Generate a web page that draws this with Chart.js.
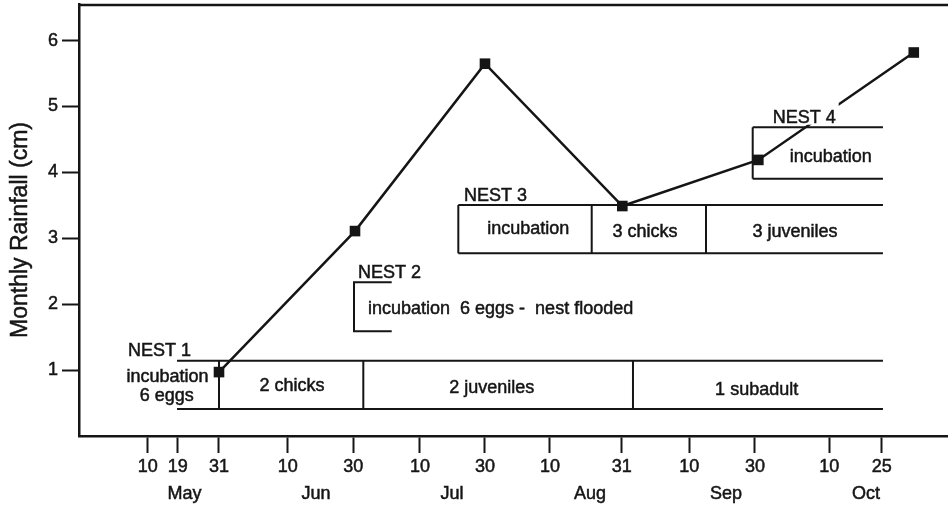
<!DOCTYPE html>
<html><head><meta charset="utf-8">
<script src="https://cdn.jsdelivr.net/npm/chart.js@4"></script>
<style>html,body{margin:0;padding:0;background:#fff;overflow:hidden}#wrap{width:948px;height:507px;position:relative}</style>
</head><body><div id="wrap"><canvas id="c"></canvas></div>
<script>
// ---- data (x axis in "tick slot" units of the hand-drawn date axis) ----
const xTickPositions = [-0.064, 0.384, 1, 2.025, 3.004, 4.0, 4.97, 5.94, 7.01, 8.019, 9.0, 10.109, 10.891];
const xTickLabels = ['10','19','31','10','30','10','30','10','31','10','30','10','25'];
const monthNames = ['May','Jun','Jul','Aug','Sep','Oct'];
const monthPositions = [0.485, 2.448, 4.478, 6.537, 8.567, 10.657];
const yTickValues = [1, 2, 3, 4, 5, 6];
const rainfallX = [1, 3.03, 4.97, 7.02, 9.05, 11.37];
const rainfallCm = [0.97, 3.11, 5.65, 3.49, 4.19, 5.82];

// nest phase boundaries (axis units)
const nest1Span = [0.373, 10.91];
const nest1Breaks = [1.0, 3.154, 7.179];
const nest1Phases = ['2 chicks', '2 juveniles', '1 subadult'];
const nest2Span = [3.015, 3.578];
const nest3Span = [4.572, 10.91];
const nest3Breaks = [6.563, 8.269];
const nest3Phases = ['incubation', '3 chicks', '3 juveniles'];
const nest4Span = [8.966, 10.91];
const nest4Phases = ['incubation'];

// ---- layout of the annotation boxes (cm units on y) ----
const FONT = '"Liberation Sans", Arial, Helvetica, sans-serif';
const INK = '#151515';
const boxLayout = [
  {span: nest1Span, breaks: nest1Breaks, y0: 0.41, y1: 1.141, leftEdge: false},
  {span: nest3Span, breaks: nest3Breaks, y0: 2.772, y1: 3.506, leftEdge: true},
  {span: nest4Span, breaks: [], y0: 3.903, y1: 4.684, leftEdge: true}
];
const textLayout = [
  {t: 'NEST 1', x: -0.358, y: 1.293, a: 'left'},
  {t: 'incubation', x: 0.231, y: 0.89, a: 'center'},
  {t: '6 eggs', x: 0.219, y: 0.611, a: 'center'},
  {t: nest1Phases[0], x: 2.09, y: 0.751, a: 'center'},
  {t: nest1Phases[1], x: 5.07, y: 0.728, a: 'center'},
  {t: nest1Phases[2], x: 9.025, y: 0.702, a: 'center'},
  {t: 'NEST 2', x: 3.075, y: 2.469, a: 'left'},
  {t: 'incubation  6 eggs -  nest flooded', x: 3.224, y: 1.92, a: 'left'},
  {t: 'NEST 3', x: 4.657, y: 3.635, a: 'left'},
  {t: nest3Phases[0], x: 5.617, y: 3.135, a: 'center'},
  {t: nest3Phases[1], x: 7.358, y: 3.09, a: 'center'},
  {t: nest3Phases[2], x: 9.597, y: 3.09, a: 'center'},
  {t: nest4Phases[0], x: 10.13, y: 4.24, a: 'center'}
];
const nest4Label = {t: 'NEST 4', x: 9.264, y: 4.83};

function inkText(ctx, t, x, y) {
  ctx.fillText(t, x, y);
  ctx.strokeText(t, x, y);
}

const annotations = {
  id: 'annotations',
  beforeDatasetsDraw(chart) {
    const {ctx, scales: {x, y}, chartArea} = chart;
    ctx.save();
    ctx.strokeStyle = INK;
    ctx.lineCap = 'butt';
    // top frame line
    ctx.beginPath();
    ctx.lineWidth = 2.5;
    ctx.moveTo(chartArea.left - 1, chartArea.top + 1);
    ctx.lineTo(chartArea.right, chartArea.top + 1);
    ctx.stroke();
    ctx.lineWidth = 2;
    boxLayout.forEach(b => {
      const xl = x.getPixelForValue(b.span[0]), xr = x.getPixelForValue(b.span[1]);
      const yt = y.getPixelForValue(b.y1), yb = y.getPixelForValue(b.y0);
      ctx.beginPath();
      ctx.moveTo(xl, yt); ctx.lineTo(xr, yt);
      ctx.moveTo(xl, yb); ctx.lineTo(xr, yb);
      if (b.leftEdge) { ctx.moveTo(xl, yt); ctx.lineTo(xl, yb); }
      b.breaks.forEach(v => { const px = x.getPixelForValue(v); ctx.moveTo(px, yt); ctx.lineTo(px, yb); });
      ctx.stroke();
    });
    // NEST 2 bracket
    const bx0 = x.getPixelForValue(nest2Span[0]), bx1 = x.getPixelForValue(nest2Span[1]);
    const bt = y.getPixelForValue(2.333), bb = y.getPixelForValue(1.591);
    ctx.beginPath();
    ctx.moveTo(bx1, bt); ctx.lineTo(bx0, bt); ctx.lineTo(bx0, bb); ctx.lineTo(bx1, bb);
    ctx.stroke();
    // texts
    ctx.fillStyle = INK;
    ctx.lineWidth = 0.5;
    ctx.font = '18px ' + FONT;
    ctx.textBaseline = 'middle';
    textLayout.forEach(o => {
      ctx.textAlign = o.a;
      inkText(ctx, o.t, x.getPixelForValue(o.x), y.getPixelForValue(o.y));
    });
    // month names
    ctx.textAlign = 'center';
    monthNames.forEach((m, i) => inkText(ctx, m, x.getPixelForValue(monthPositions[i]), 494));
    // y title
    ctx.save();
    ctx.translate(21, 230);
    ctx.rotate(-Math.PI / 2);
    ctx.font = '23px ' + FONT;
    inkText(ctx, 'Monthly Rainfall (cm)', 0, 0);
    ctx.restore();
    ctx.restore();
  },
  afterDatasetsDraw(chart) {
    const {ctx, scales: {x, y}} = chart;
    ctx.save();
    ctx.font = '18px ' + FONT;
    ctx.textBaseline = 'middle';
    ctx.textAlign = 'left';
    const px = x.getPixelForValue(nest4Label.x), py = y.getPixelForValue(nest4Label.y);
    const w = ctx.measureText(nest4Label.t).width;
    ctx.fillStyle = '#fff';
    ctx.fillRect(px - 2, py - 15, w + 5, 22);
    ctx.fillStyle = INK;
    ctx.strokeStyle = INK;
    ctx.lineWidth = 0.5;
    inkText(ctx, nest4Label.t, px, py);
    ctx.restore();
  }
};

function noPad(s) { s.paddingTop = 0; s.paddingBottom = 0; s.paddingLeft = 0; s.paddingRight = 0; }

new Chart(document.getElementById('c'), {
  type: 'line',
  data: {
    datasets: [{
      data: rainfallX.map((v, i) => ({x: v, y: rainfallCm[i]})),
      borderColor: INK,
      borderWidth: 2.5,
      backgroundColor: INK,
      pointStyle: 'rect',
      pointRadius: 7.5,
      pointBorderWidth: 0,
      tension: 0,
      clip: false
    }]
  },
  options: {
    responsive: true,
    maintainAspectRatio: false,
    animation: false,
    devicePixelRatio: 1,
    layout: {autoPadding: false, padding: {top: 4, right: 0, left: 0, bottom: 0}},
    plugins: {legend: {display: false}, tooltip: {enabled: false}},
    scales: {
      x: {
        type: 'linear',
        min: -1.0896,
        max: 11.881,
        afterBuildTicks: s => { s.ticks = xTickPositions.map(v => ({value: v})); },
        afterFit: s => { s.height = 71; noPad(s); },
        ticks: {
          autoSkip: false, maxRotation: 0, minRotation: 0, padding: 3,
          color: INK, font: {family: FONT, size: 18},
          textStrokeColor: INK, textStrokeWidth: 0.5,
          callback: (v, i) => xTickLabels[i]
        },
        grid: {drawOnChartArea: false, drawTicks: true, tickLength: 17, tickWidth: 2, tickColor: INK},
        border: {display: true, color: INK, width: 2.5}
      },
      y: {
        type: 'linear',
        min: 0,
        max: 6.556,
        afterBuildTicks: s => { s.ticks = yTickValues.map(v => ({value: v})); },
        afterFit: s => { s.width = 79; noPad(s); },
        ticks: {padding: 4, color: INK, font: {family: FONT, size: 18}, textStrokeColor: INK, textStrokeWidth: 0.5},
        grid: {drawOnChartArea: false, drawTicks: true, tickLength: 17, tickWidth: 2, tickColor: INK},
        border: {display: true, color: INK, width: 2.5}
      }
    }
  },
  plugins: [annotations]
});
</script>
</body></html>
